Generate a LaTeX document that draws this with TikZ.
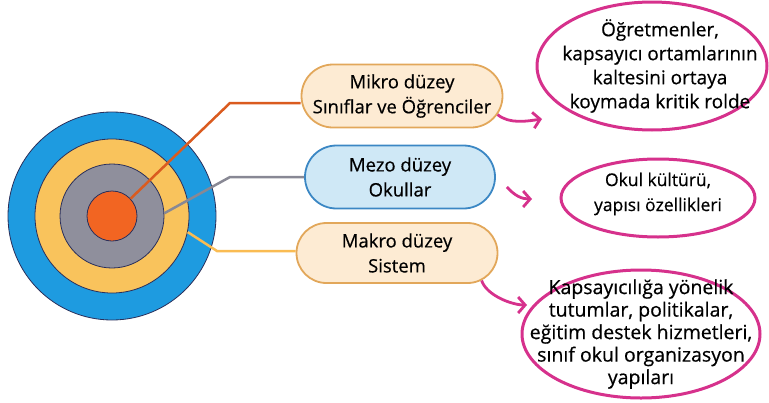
\documentclass[tikz,border=0pt]{standalone}
\usepackage{fontspec}
\setmainfont{Open Sans}[FakeBold=0.5]
\usetikzlibrary{arrows.meta,shapes.misc,shapes.geometric}
\definecolor{ringblue}{HTML}{1E9BE0}
\definecolor{ringyellow}{HTML}{F9C35C}
\definecolor{ringgray}{HTML}{8F8F9C}
\definecolor{ringorange}{HTML}{F26522}
\definecolor{ringedge}{HTML}{2A2F5B}
\definecolor{boxpeach}{HTML}{FDEBD3}
\definecolor{boxtan}{HTML}{E2A75A}
\definecolor{boxsky}{HTML}{CFE8F6}
\definecolor{boxnavy}{HTML}{3B87C4}
\definecolor{notepink}{HTML}{D6318C}
\begin{document}
\begin{tikzpicture}[x=1pt,y=-1pt,
	ring/.style={circle,draw=ringedge,line width=0.8pt,inner sep=0pt},
	levelbox/.style={rounded rectangle,line width=1.8pt,inner sep=0pt,align=center,
		font=\fontsize{18.5}{25}\selectfont},
	notebubble/.style={ellipse,draw=notepink,line width=3pt,fill=white,inner sep=0pt},
	notetext/.style={align=center,font=\fontsize{19}{24}\selectfont},
	leader/.style={line width=2.5pt},
	pinkarrow/.style={notepink,line width=2.8pt,-{Straight Barb[length=7pt,width=16pt]}}]
	\useasboundingbox (0,0) rectangle (769,402);
	
	\node[ring,fill=ringblue,minimum size=208pt] (ringblue) at (112,216) {};
	\node[ring,fill=ringyellow,minimum size=154pt] (ringyellow) at (112,216) {};
	\node[ring,fill=ringgray,minimum size=104pt] (ringgray) at (112,216) {};
	\node[ring,fill=ringorange,minimum size=50pt] (core) at (112,216) {};
	
	\node[levelbox,draw=boxtan,fill=boxpeach,minimum width=201pt,minimum height=63pt] (mikro) at (402,96)
		{Mikro düzey\\Sınıflar ve Öğrenciler};
	\node[levelbox,draw=boxnavy,fill=boxsky,minimum width=190pt,minimum height=63pt] (mezo) at (400,177)
		{Mezo düzey\\Okullar};
	\node[levelbox,draw=boxtan,fill=boxpeach,minimum width=201pt,minimum height=60pt] (makro) at (397,253)
		{Makro düzey\\Sistem};
	
	\coordinate (kinkmikro) at (230,103);
	\coordinate (kinkmezo) at (230,177);
	\coordinate (kinkmakro) at (217,251);
	\draw[leader,color=ringorange!90!black] (core.43) -- (kinkmikro) -- (kinkmikro -| mikro.west);
	\draw[leader,color=ringgray!95!black] (ringgray.3) -- (kinkmezo) -- (kinkmezo -| mezo.west);
	\draw[leader,color=ringyellow!90!orange] (ringyellow.-12) -- (kinkmakro) -- (kinkmakro -| makro.west);
	
	\node[notebubble,minimum width=230pt,minimum height=128pt,
		label={[notetext,xshift=8pt]center:Öğretmenler,\\kapsayıcı ortamlarının\\kaltesini ortaya\\koymada kritik rolde}] (notemikro) at (652,66) {};
	\node[notebubble,minimum width=194pt,minimum height=78pt,
		label={[notetext,font=\fontsize{17.5}{25}\selectfont,yshift=4pt]center:Okul kültürü,\\yapısı özellikleri}] (notemezo) at (658,198) {};
	\node[notebubble,minimum width=238pt,minimum height=128pt,
		label={[notetext,font=\fontsize{19.5}{22.5}\selectfont]center:Kapsayıcılığa yönelik\\tutumlar, politikalar,\\eğitim destek hizmetleri,\\sınıf okul organizasyon\\yapıları}] (notemakro) at (641,334) {};
	
	\coordinate (tipmikro) at (542,119);
	\coordinate (tipmezo) at (532,199);
	\coordinate (tipmakro) at (527,305);
	\draw[pinkarrow] (mikro.-11) .. controls +(12,10) and +(-14,2) .. (tipmikro);
	\draw[pinkarrow] ([xshift=11pt,yshift=-10pt]mezo.east) .. controls +(8,9) and +(-10,0) .. (tipmezo);
	\draw[pinkarrow] (makro.-18) .. controls +(5,15) and +(-15,0) .. (tipmakro);
\end{tikzpicture}
\end{document}
